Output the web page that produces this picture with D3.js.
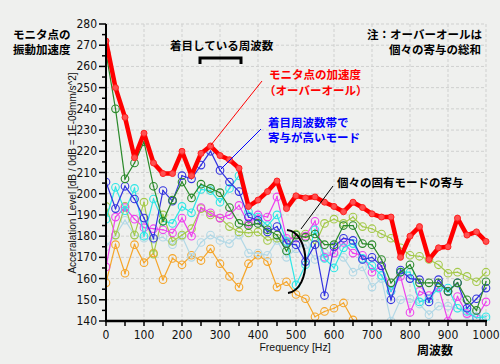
<!DOCTYPE html>
<html>
<head>
<meta charset="utf-8">
<script src="https://cdn.jsdelivr.net/npm/d3@7"></script>
<style>
  html, body { margin: 0; padding: 0; background: #eff0ee; }
  svg { display: block; }
  .jp { font-family: "Noto Sans CJK JP", sans-serif; font-weight: bold; }
  .num { font-family: "Liberation Sans Narrow", "DejaVu Sans Condensed", sans-serif; }
</style>
</head>
<body>
<svg id="chart" width="500" height="364"></svg>
<script>
const freqs = [0, 25, 50, 75, 100, 125, 150, 175, 200, 225, 250, 275, 300, 325, 350, 375, 400,
  425, 450, 475, 500, 525, 550, 575, 600, 625, 650, 675, 700, 725, 750, 775, 800, 825, 850,
  875, 900, 925, 950, 975, 1000]

const overall = [272, 250, 236, 217, 228.5, 214.5, 209.5, 209.5, 220, 208.5, 219, 222.5, 218, 216,
  212, 194, 197, 201, 206, 193, 199, 198, 198.5, 196, 194, 191.5, 196, 193.5, 190.5, 189, 189,
  170, 180, 184.5, 169, 174.5, 175, 188.5, 180.5, 182, 177.5]
const modeGreen = [266.5, 240, 207, 214.5, 224.5, 203.5, 187, 197, 205.5, 198, 204.5, 202.5, 200.5,
  193.5, 186, 185, 186, 183, 180.5, 173, 180.5, 179.5, 181, 176, 176, 185, 185, 176.5, 176, 169,
  158, 163, 166.5, 158, 158, 158, 154, 158, 150, 145, 158.5]
const modeBlue = [205.5, 193, 203.5, 197.5, 188.5, 179, 201.5, 196.5, 208.5, 207, 213.5, 220, 211,
  205.5, 201, 189, 187.5, 182, 184.5, 176.5, 176, 168, 176, 152, 175, 179, 178, 169, 170, 166,
  150, 164, 160, 159.5, 149, 159.5, 154, 158, 146, 150.5, 155.5]
const modeCyan = [188, 203, 192, 202.5, 180, 197.5, 187, 186, 194, 191, 202, 201.5, 196, 202.5,
  208.5, 191.5, 189, 185, 190, 177.5, 157, 166.5, 183, 169.5, 165, 174.5, 176.5, 169.5, 166,
  161.5, 154, 163, 163, 149, 150.5, 155.5, 155.5, 146, 144.5, 141.5, 142]
const modeMagenta = [165.5, 189, 193.5, 188, 184, 183.5, 183, 181.5, 188.5, 180, 193.5, 191, 188.5,
  190, 194.5, 186, 190, 189, 198.5, 179, 179, 180, 187, 170, 172, 177, 172, 171, 163, 166, 154,
  161, 144, 154, 152, 156, 140, 151.5, 143.5, 141.5, 149]
const modeYellowGreen = [194, 180.5, 194, 180.5, 196, 171.5, 190, 177.5, 180.5, 183.5, 193, 190,
  188.5, 184.5, 182, 181.5, 182, 178, 179, 177, 181, 181, 176, 186, 188, 186, 189, 184.5, 183.5,
  181, 179, 174.5, 171, 170.5, 169, 166.5, 162.5, 163, 161, 158.5, 163]
const modeLightBlue = [175, 180.5, 187.5, 180.5, 179, 178.5, 179.5, 176, 180, 170, 177, 180.5, 178,
  176.5, 180.5, 172, 172, 171, 178, 170, 174, 176, 169, 172, 172, 170, 163, 165.5, 156, 160, 140,
  150, 150.5, 148, 143, 147, 147, 146, 143, 144, 141]
const modeOrange = [158, 176, 162.5, 176, 167.5, 172, 159.5, 169.5, 166.5, 171, 168.5, 174, 167,
  161, 156, 167, 171, 168, 156, 158.5, 152.5, 150.5, 142, 144.5, 146, 148.5, 140.5, 136]

const xTicks = [0, 100, 200, 300, 400, 500, 600, 700, 800, 900, 1000]
const yTicks = [140, 150, 160, 170, 180, 190, 200, 210, 220, 230, 240, 250, 260, 270, 280]

const series = [
  { values: modeOrange, color: '#f5a52a' },
  { values: modeLightBlue, color: '#b2d8e6' },
  { values: modeYellowGreen, color: '#a4c94a' },
  { values: modeMagenta, color: '#ee44ee' },
  { values: modeCyan, color: '#2ee6e6' },
  { values: modeBlue, color: '#3434e0' },
  { values: modeGreen, color: '#2b8a2b' }
]

const svg = d3.select('#chart')
const plotL = 106
const plotR = 486
const plotT = 24
const plotB = 321

const x = d3.scaleLinear().domain([0, 1000]).range([plotL, plotR])
const y = d3.scaleLinear().domain([140, 280]).range([plotB, plotT])

svg.append('rect').attr('width', 500).attr('height', 364).attr('fill', '#eff0ee')

// grid
const grid = svg.append('g').attr('stroke', '#cfd0cf').attr('stroke-dasharray', '3,2')
grid.selectAll('line.v')
  .data(xTicks.slice(1))
  .enter()
  .append('line')
  .attr('x1', d => x(d)).attr('x2', d => x(d))
  .attr('y1', plotT).attr('y2', plotB)
grid.selectAll('line.h')
  .data(yTicks.slice(1))
  .enter()
  .append('line')
  .attr('x1', plotL).attr('x2', plotR)
  .attr('y1', d => y(d)).attr('y2', d => y(d))

svg.append('clipPath').attr('id', 'plot')
  .append('rect')
  .attr('x', plotL).attr('y', plotT - 6)
  .attr('width', plotR - plotL + 6).attr('height', plotB - plotT + 6)

const plot = svg.append('g').attr('clip-path', 'url(#plot)')

const line = d3.line().x(d => x(d[0])).y(d => y(d[1]))

series.forEach(s => {
  const pts = s.values.map((v, i) => [freqs[i], v])
  plot.append('path')
    .attr('d', line(pts))
    .attr('fill', 'none')
    .attr('stroke', s.color)
    .attr('stroke-width', 1.2)
  const m = plot.append('g').selectAll('g')
    .data(pts.filter(p => p[1] >= 140))
    .enter()
    .append('g')
  m.append('circle')
    .attr('cx', d => x(d[0])).attr('cy', d => y(d[1]))
    .attr('r', 3.8)
    .attr('fill', 'none')
    .attr('stroke', s.color)
    .attr('stroke-width', 1.1)
  m.append('circle')
    .attr('cx', d => x(d[0])).attr('cy', d => y(d[1]))
    .attr('r', 0.8)
    .attr('fill', s.color)
})

// overall (thick red)
const redPts = overall.map((v, i) => [freqs[i], v])
plot.append('path')
  .attr('d', line(redPts))
  .attr('fill', 'none')
  .attr('stroke', '#ff0000')
  .attr('stroke-width', 4.5)
  .attr('stroke-linejoin', 'round')
plot.append('g').selectAll('circle')
  .data(redPts)
  .enter()
  .append('circle')
  .attr('cx', d => x(d[0])).attr('cy', d => y(d[1]))
  .attr('r', 3)
  .attr('fill', '#ff5050')
  .attr('stroke', '#ff2020')
  .attr('stroke-width', 1)

// axes
const yAxis = svg.append('g')
yAxis.append('line')
  .attr('x1', plotL).attr('x2', plotL).attr('y1', plotT).attr('y2', plotB + 1)
  .attr('stroke', '#000').attr('stroke-width', 2)
yAxis.selectAll('line.t')
  .data(d3.range(140, 281, 5))
  .enter()
  .append('line')
  .attr('x1', d => (d % 10 === 0 ? plotL - 7 : plotL - 4)).attr('x2', plotL)
  .attr('y1', d => y(d)).attr('y2', d => y(d))
  .attr('stroke', '#000').attr('stroke-width', 1.5)
yAxis.selectAll('text')
  .data(yTicks)
  .enter()
  .append('text')
  .attr('class', 'num')
  .attr('x', plotL - 9).attr('y', d => y(d) + 4)
  .attr('text-anchor', 'end')
  .attr('font-size', 12)
  .attr('fill', '#111')
  .text(d => d)

const xAxis = svg.append('g')
xAxis.append('line')
  .attr('x1', plotL - 1).attr('x2', plotR + 1).attr('y1', plotB).attr('y2', plotB)
  .attr('stroke', '#000').attr('stroke-width', 2.5)
xAxis.selectAll('line.t')
  .data(d3.range(0, 1001, 50))
  .enter()
  .append('line')
  .attr('x1', d => x(d)).attr('x2', d => x(d))
  .attr('y1', plotB).attr('y2', plotB + 5)
  .attr('stroke', '#000').attr('stroke-width', 1.5)
xAxis.selectAll('text')
  .data(xTicks)
  .enter()
  .append('text')
  .attr('class', 'num')
  .attr('x', d => x(d)).attr('y', plotB + 18)
  .attr('text-anchor', 'middle')
  .attr('font-size', 12)
  .attr('fill', '#111')
  .text(d => d)

svg.append('text')
  .attr('x', 295).attr('y', 351)
  .attr('text-anchor', 'middle')
  .attr('font-family', 'Liberation Sans, sans-serif')
  .attr('font-size', 10.5)
  .attr('fill', '#111')
  .text('Frequency [Hz]')

svg.append('text')
  .attr('transform', 'translate(76,173) rotate(-90)')
  .attr('text-anchor', 'middle')
  .attr('font-family', 'Liberation Sans, sans-serif')
  .attr('font-size', 10)
  .attr('fill', '#111')
  .text('Acceralation Level [dB / 0dB = 1E-09mm/s^2]')

// annotations
const jp = (txt, xx, yy, color, anchor, size) => svg.append('text')
  .attr('class', 'jp')
  .attr('x', xx).attr('y', yy)
  .attr('text-anchor', anchor || 'start')
  .attr('font-size', size || 11.5)
  .attr('fill', color)
  .text(txt)

jp('モニタ点の', 13, 39, '#000')
jp('振動加速度', 13, 54, '#000')
jp('着目している周波数', 170, 50, '#000')
jp('注：オーバーオールは', 367, 39, '#000')
jp('個々の寄与の総和', 481, 54, '#000', 'end')
jp('モニタ点の加速度', 269, 79, '#ff0000')
jp('（オーバーオール）', 264, 95, '#ff0000')
jp('着目周波数帯で', 268, 127, '#0000ff')
jp('寄与が高いモード', 268, 142, '#0000ff')
jp('個々の固有モードの寄与', 337, 187, '#000')
jp('周波数', 417, 355, '#000', 'start', 12)

svg.append('path')
  .attr('d', 'M200,64 L200,58 L241,58 L241,64')
  .attr('fill', 'none').attr('stroke', '#000').attr('stroke-width', 3)

svg.append('line')
  .attr('x1', 211).attr('y1', 145).attr('x2', 262).attr('y2', 81)
  .attr('stroke', '#ff0000').attr('stroke-width', 1)
svg.append('line')
  .attr('x1', 221).attr('y1', 169).attr('x2', 261).attr('y2', 129)
  .attr('stroke', '#0000ff').attr('stroke-width', 1)
svg.append('line')
  .attr('x1', 301).attr('y1', 229).attr('x2', 333).attr('y2', 186)
  .attr('stroke', '#000').attr('stroke-width', 1)
svg.append('path')
  .attr('d', 'M287,230 C311,232 312,290 288,293')
  .attr('fill', 'none').attr('stroke', '#000').attr('stroke-width', 2)
</script>
</body>
</html>
